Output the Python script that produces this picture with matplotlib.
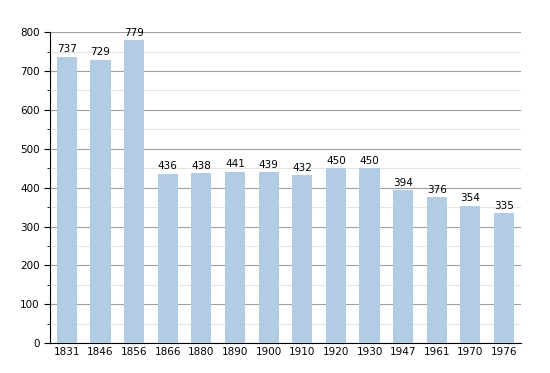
import numpy as np
from matplotlib import pyplot as plt
from matplotlib.ticker import MultipleLocator

years = ['1831', '1846', '1856', '1866', '1880', '1890', '1900',
         '1910', '1920', '1930', '1947', '1961', '1970', '1976']
population = [737, 729, 779, 436, 438, 441, 439, 432, 450, 450, 394, 376, 354, 335]

fig = plt.figure(figsize=(5.5, 3.73), dpi=100)
ax = fig.add_axes([0.091, 0.080, 0.856, 0.834])

x = np.arange(len(years))
bars = ax.bar(x, population, width=0.6, color='#b3cce6', zorder=3)
for xi, v in zip(x, population):
    ax.text(xi, v + 6, str(v), ha='center', va='bottom', fontsize=7.5, zorder=4)

ax.set_xlim(-0.5, len(years) - 0.5)
ax.set_ylim(0, 800)
ax.set_xticks(x)
ax.set_xticklabels(years)
ax.yaxis.set_major_locator(MultipleLocator(100))
ax.yaxis.set_minor_locator(MultipleLocator(50))
ax.grid(axis='y', which='major', color='#a0a0a0', linewidth=0.8, zorder=0)
ax.grid(axis='y', which='minor', color='#e4e4e4', linewidth=0.8, zorder=0)
ax.tick_params(axis='x', length=0, labelsize=7.5, pad=3)
ax.tick_params(axis='y', which='major', length=4, labelsize=7.5)
ax.tick_params(axis='y', which='minor', length=2)
ax.spines['top'].set_visible(False)
ax.spines['right'].set_visible(False)

fig.savefig('out.png', dpi=100)
